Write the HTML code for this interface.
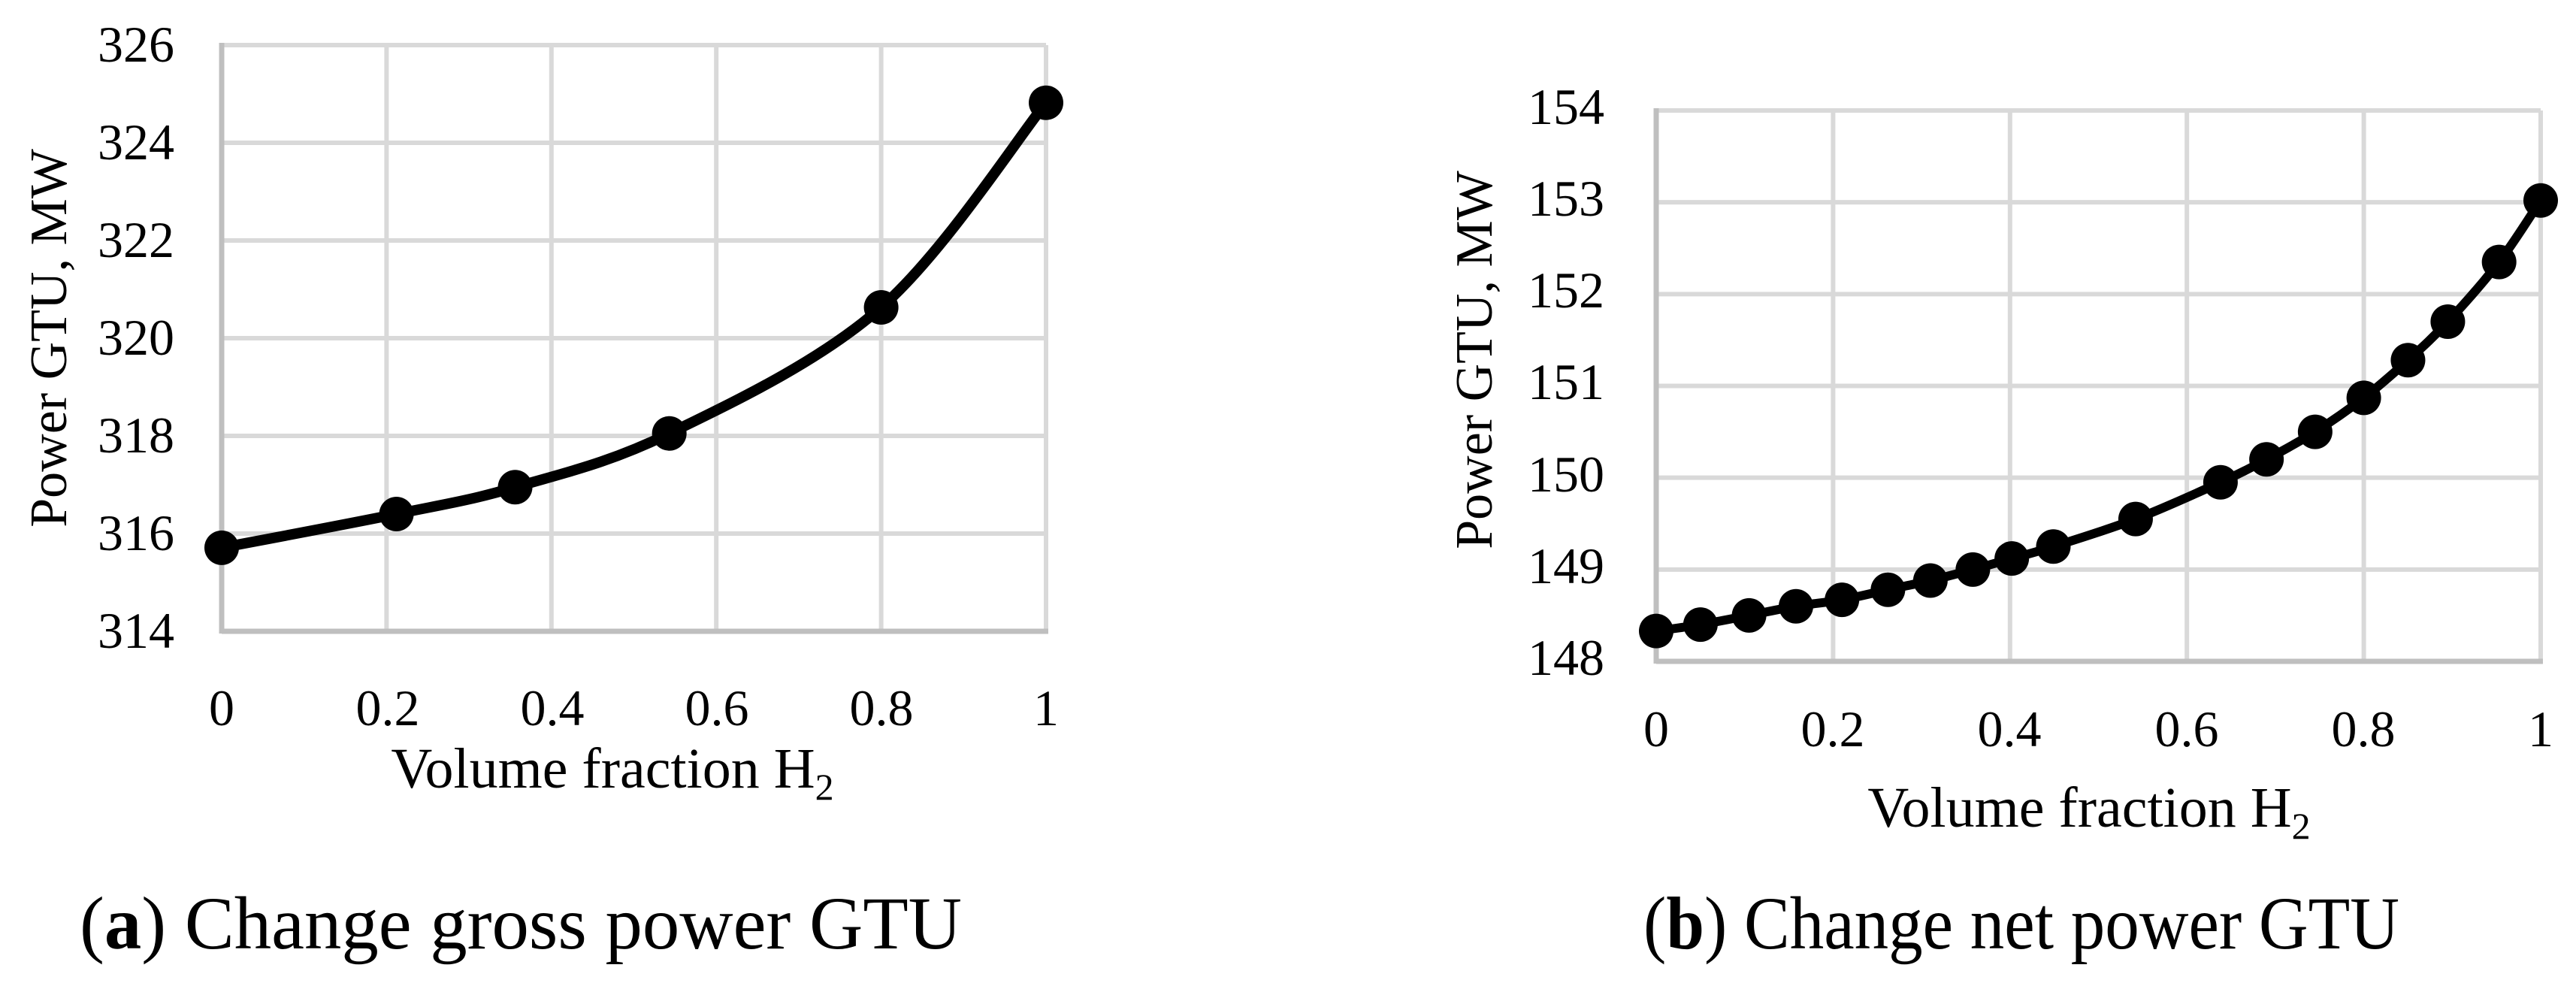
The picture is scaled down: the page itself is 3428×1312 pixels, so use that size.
<!DOCTYPE html>
<html><head><meta charset="utf-8">
<style>
html,body{margin:0;padding:0;background:#fff;}
svg{display:block;}
text{font-family:"Liberation Serif",serif;fill:#000;}
</style></head>
<body>
<svg id="s" width="3428" height="1312" viewBox="0 0 3428 1312" xmlns="http://www.w3.org/2000/svg">
<g id="ga"></g>
<g id="gb"></g>
<g font-size="68" text-anchor="end">
<text x="232" y="82">326</text>
<text x="232" y="212">324</text>
<text x="232" y="342">322</text>
<text x="232" y="472">320</text>
<text x="232" y="602">318</text>
<text x="232" y="732">316</text>
<text x="232" y="862">314</text>
</g>
<g font-size="68" text-anchor="middle">
<text x="295" y="965">0</text>
<text x="516" y="965">0.2</text>
<text x="735" y="965">0.4</text>
<text x="954" y="965">0.6</text>
<text x="1173" y="965">0.8</text>
<text x="1392" y="965">1</text>
</g>
<text x="815" y="1048" font-size="76" text-anchor="middle">Volume fraction H<tspan font-size="50" dy="16">2</tspan></text>
<text transform="translate(88,450) rotate(-90)" font-size="70" text-anchor="middle">Power GTU, MW</text>
<text x="106" y="1262" font-size="100" textLength="1174" lengthAdjust="spacingAndGlyphs">(<tspan font-weight="bold">a</tspan>) Change gross power GTU</text>
<g font-size="68" text-anchor="end">
<text x="2135" y="165">154</text>
<text x="2135" y="287">153</text>
<text x="2135" y="409">152</text>
<text x="2135" y="531">151</text>
<text x="2135" y="654">150</text>
<text x="2135" y="776">149</text>
<text x="2135" y="898">148</text>
</g>
<g font-size="68" text-anchor="middle">
<text x="2204" y="993">0</text>
<text x="2439" y="993">0.2</text>
<text x="2674" y="993">0.4</text>
<text x="2910" y="993">0.6</text>
<text x="3145" y="993">0.8</text>
<text x="3381" y="993">1</text>
</g>
<text x="2780" y="1100" font-size="76" text-anchor="middle">Volume fraction H<tspan font-size="50" dy="16">2</tspan></text>
<text transform="translate(1985,479) rotate(-90)" font-size="70" text-anchor="middle">Power GTU, MW</text>
<text x="2187" y="1262" font-size="100" textLength="1006" lengthAdjust="spacingAndGlyphs">(<tspan font-weight="bold">b</tspan>) Change net power GTU</text>
</svg>
<script>
var NS="http://www.w3.org/2000/svg";
function el(g,n,a){var e=document.createElementNS(NS,n);for(var k in a)e.setAttribute(k,a[k]);g.appendChild(e);return e;}
function chart(id,L,R,T,B,ymin,ymax,ny,data,lw,r){
  var g=document.getElementById(id);
  for(var i=0;i<=5;i++){var x=L+(R-L)*i/5;el(g,"line",{x1:x,y1:T,x2:x,y2:B,stroke:"#d9d9d9","stroke-width":6});}
  for(var j=0;j<=ny;j++){var y=T+(B-T)*j/ny;el(g,"line",{x1:L,y1:y,x2:R,y2:y,stroke:"#d9d9d9","stroke-width":6});}
  el(g,"line",{x1:L,y1:T-3,x2:L,y2:B+3,stroke:"#bfbfbf","stroke-width":7});
  el(g,"line",{x1:L,y1:B,x2:R+3,y2:B,stroke:"#bfbfbf","stroke-width":7});
  var p=data.map(function(d){return [L+(R-L)*d[0],B-(B-T)*(d[1]-ymin)/(ymax-ymin)];});
  var s="M"+p[0][0]+","+p[0][1];
  for(var i=0;i<p.length-1;i++){
    var p0=p[i-1]||p[i],p1=p[i],p2=p[i+1],p3=p[i+2]||p2;
    var c1=[p1[0]+(p2[0]-p0[0])/6,p1[1]+(p2[1]-p0[1])/6];
    var c2=[p2[0]-(p3[0]-p1[0])/6,p2[1]-(p3[1]-p1[1])/6];
    s+=" C"+c1+" "+c2+" "+p2;
  }
  el(g,"path",{d:s,fill:"none",stroke:"#000","stroke-width":lw,"stroke-linecap":"round"});
  p.forEach(function(q){el(g,"circle",{cx:q[0],cy:q[1],r:r,fill:"#000"});});
}
chart("ga",295,1392,60,840,314,326,6,
 [[0,315.71],[0.212,316.4],[0.356,316.95],[0.543,318.05],[0.8,320.63],[1,324.82]],14,23);
chart("gb",2204,3381,147,880,148,154,6,
 [[0,148.33],[0.05,148.4],[0.105,148.5],[0.158,148.6],[0.21,148.67],[0.262,148.78],[0.31,148.88],[0.358,149.0],[0.402,149.12],[0.449,149.25],[0.542,149.55],[0.638,149.95],[0.69,150.2],[0.745,150.5],[0.8,150.87],[0.85,151.28],[0.895,151.7],[0.953,152.35],[1,153.02]],12,23);
</script>
</body></html>
